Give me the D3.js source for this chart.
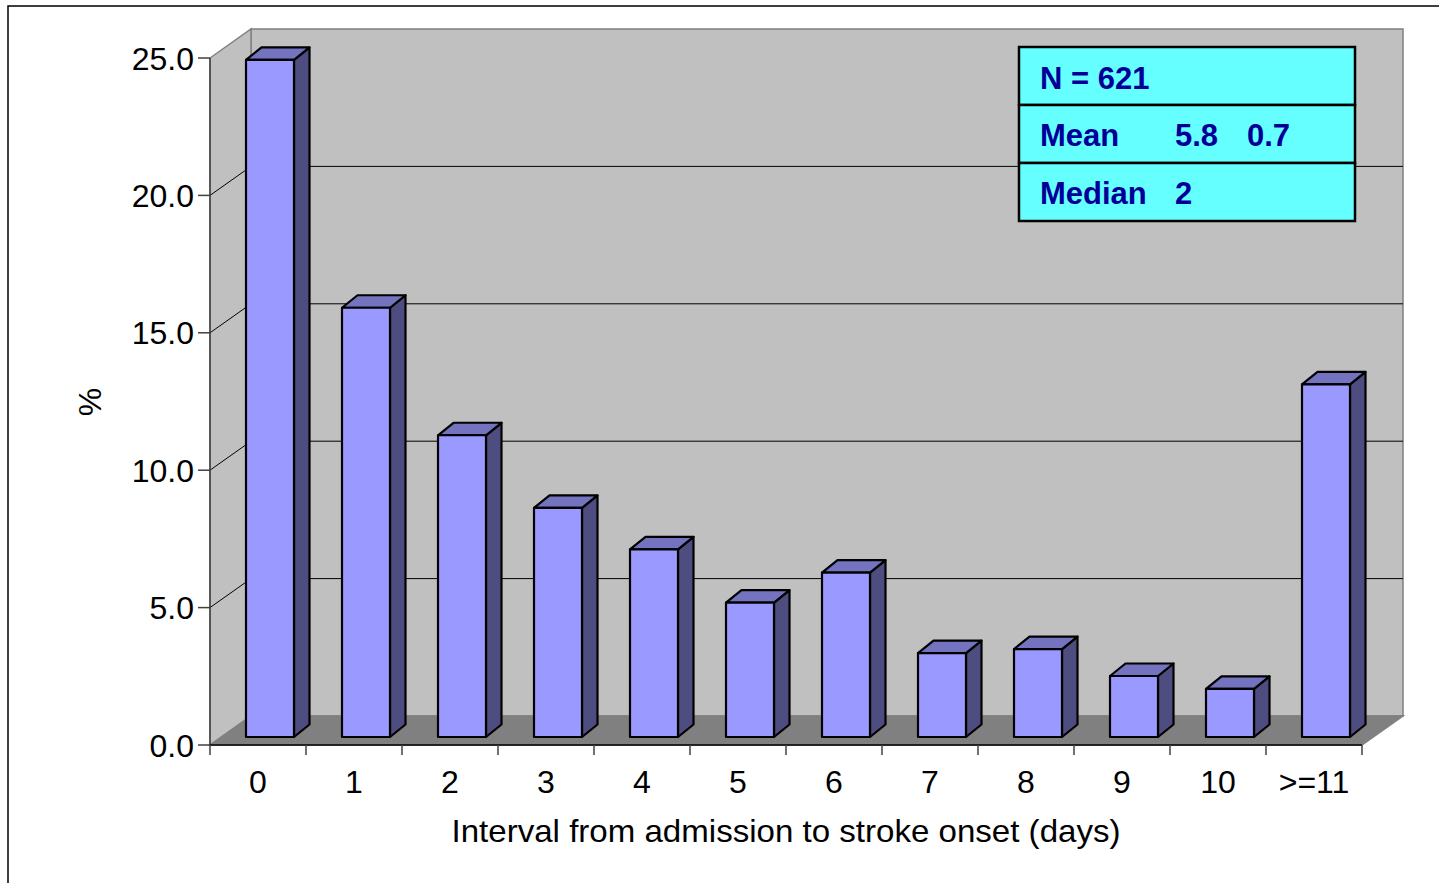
<!DOCTYPE html>
<html>
<head>
<meta charset="utf-8">
<script src="https://cdn.jsdelivr.net/npm/d3@7"></script>
<style>
  html, body { margin: 0; padding: 0; background: #fff; overflow: hidden; }
  svg { display: block; font-family: "Liberation Sans", Arial, sans-serif; }
</style>
</head>
<body>
<svg id="chart" width="1439" height="883"></svg>
<script>
// Distribution of the interval from admission to stroke onset
const categories = ["0", "1", "2", "3", "4", "5", "6", "7", "8", "9", "10", ">=11"];
const percents = [24.64, 15.62, 10.98, 8.34, 6.83, 4.89, 5.98, 3.05, 3.20, 2.22, 1.75, 12.83];
const yTicks = [0, 5, 10, 15, 20, 25];
const gridValues = [5, 10, 15, 20];
const statsRows = [
  ["N = 621"],
  ["Mean", "5.8", "0.7"],
  ["Median", "2"]
];
const xTitle = "Interval from admission to stroke onset (days)";
const yTitle = "%";

const svg = d3.select("#chart");

// Front plane of the 3D box and its depth offset to the back wall
const x = d3.scaleBand().domain(categories).range([210, 1362]).paddingInner(0).paddingOuter(0);
const y = d3.scaleLinear().domain([0, 25]).range([745, 58]);
const depth = { dx: 41, dy: -29 };
// bar front face sits a little behind the front plane; bar depth
const barFront = { dx: 12, dy: -8 };
const barDepth = { dx: 15.5, dy: -12.5 };

const x0 = x.range()[0], x1 = x.range()[1];
const yBase = y(0), yTop = y(25);

// outer chart frame
svg.append("rect")
  .attr("x", 8).attr("y", 6).attr("width", 1460).attr("height", 900)
  .attr("fill", "#fff").attr("stroke", "#000").attr("stroke-width", 1.5);

const pts = a => a.map(p => p.join(",")).join(" ");

// back wall
svg.append("polygon")
  .attr("points", pts([[x0 + depth.dx, yTop + depth.dy], [x1 + depth.dx, yTop + depth.dy],
                       [x1 + depth.dx, yBase + depth.dy], [x0 + depth.dx, yBase + depth.dy]]))
  .attr("fill", "#c0c0c0").attr("stroke", "#808080").attr("stroke-width", 1.5);

// side wall
svg.append("polygon")
  .attr("points", pts([[x0, yTop], [x0 + depth.dx, yTop + depth.dy],
                       [x0 + depth.dx, yBase + depth.dy], [x0, yBase]]))
  .attr("fill", "#c0c0c0").attr("stroke", "#808080").attr("stroke-width", 1.5);

// floor
svg.append("polygon")
  .attr("points", pts([[x0, yBase], [x1, yBase], [x1 + depth.dx, yBase + depth.dy], [x0 + depth.dx, yBase + depth.dy]]))
  .attr("fill", "#808080").attr("stroke", "#808080").attr("stroke-width", 1.5);

// gridlines on back and side walls
const grid = svg.append("g").attr("stroke", "#000").attr("stroke-width", 1);
gridValues.forEach(v => {
  grid.append("line")
    .attr("x1", x0 + depth.dx).attr("x2", x1 + depth.dx)
    .attr("y1", y(v) + depth.dy).attr("y2", y(v) + depth.dy);
  grid.append("line")
    .attr("x1", x0).attr("x2", x0 + depth.dx)
    .attr("y1", y(v)).attr("y2", y(v) + depth.dy);
});

// bars as boxes
const bw = x.bandwidth() / 2;
const bars = svg.append("g").attr("stroke", "#000").attr("stroke-width", 2.2).attr("stroke-linejoin", "round");
categories.forEach((c, i) => {
  const left = x(c) + bw / 2 + barFront.dx;
  const right = left + bw;
  const bottom = y(0) + barFront.dy;
  const top = y(percents[i]) + barFront.dy;
  const dx = barDepth.dx, dy = barDepth.dy;
  // side face
  bars.append("polygon")
    .attr("points", pts([[right, top], [right + dx, top + dy], [right + dx, bottom + dy], [right, bottom]]))
    .attr("fill", "#4d4d80");
  // top face
  bars.append("polygon")
    .attr("points", pts([[left, top], [left + dx, top + dy], [right + dx, top + dy], [right, top]]))
    .attr("fill", "#7373bf");
  // front face
  bars.append("rect")
    .attr("x", left).attr("y", top).attr("width", bw).attr("height", bottom - top)
    .attr("fill", "#9999ff");
});

// y axis
const yAxis = svg.append("g");
yAxis.append("line").attr("x1", x0).attr("x2", x0).attr("y1", yTop).attr("y2", yBase)
  .attr("stroke", "#404040").attr("stroke-width", 1.5);
yTicks.forEach(t => {
  yAxis.append("line").attr("x1", x0 - 12).attr("x2", x0).attr("y1", y(t)).attr("y2", y(t))
    .attr("stroke", "#404040").attr("stroke-width", 1.5);
  yAxis.append("text").attr("x", x0 - 16).attr("y", y(t)).attr("dy", "0.36em")
    .attr("text-anchor", "end").attr("font-size", 32).attr("fill", "#000")
    .text(d3.format(".1f")(t));
});

// x axis
const xAxis = svg.append("g");
xAxis.append("line").attr("x1", x0).attr("x2", x1).attr("y1", yBase).attr("y2", yBase)
  .attr("stroke", "#000").attr("stroke-width", 1.5);
d3.range(categories.length + 1).forEach(k => {
  const tx = x0 + k * x.step();
  xAxis.append("line").attr("x1", tx).attr("x2", tx).attr("y1", yBase).attr("y2", yBase + 10)
    .attr("stroke", "#404040").attr("stroke-width", 1.5);
});
categories.forEach(c => {
  xAxis.append("text").attr("x", x(c) + x.bandwidth() / 2).attr("y", 793)
    .attr("text-anchor", "middle").attr("font-size", 32).attr("fill", "#000").text(c);
});

// axis titles
svg.append("text").attr("x", (x0 + x1) / 2).attr("y", 842)
  .attr("text-anchor", "middle").attr("font-size", 32).attr("fill", "#000")
  .attr("textLength", 669).attr("lengthAdjust", "spacingAndGlyphs")
  .text(xTitle);
svg.append("text").attr("transform", "translate(101,402) rotate(-90)")
  .attr("text-anchor", "middle").attr("font-size", 32).attr("fill", "#000").text(yTitle);

// statistics box
const box = { x: 1019, y: 47, w: 336, rowH: [58, 58, 58] };
const colX = [1040, 1175, 1247];
const baselines = [89, 146, 204];
const boxG = svg.append("g");
let ry = box.y;
statsRows.forEach((row, r) => {
  boxG.append("rect").attr("x", box.x).attr("y", ry).attr("width", box.w).attr("height", box.rowH[r])
    .attr("fill", "#66ffff").attr("stroke", "#000").attr("stroke-width", 2.5);
  row.forEach((cell, j) => {
    boxG.append("text").attr("x", colX[j]).attr("y", baselines[r])
      .attr("font-size", 31).attr("font-weight", "bold").attr("fill", "#000099").text(cell);
  });
  ry += box.rowH[r];
});
</script>
</body>
</html>
